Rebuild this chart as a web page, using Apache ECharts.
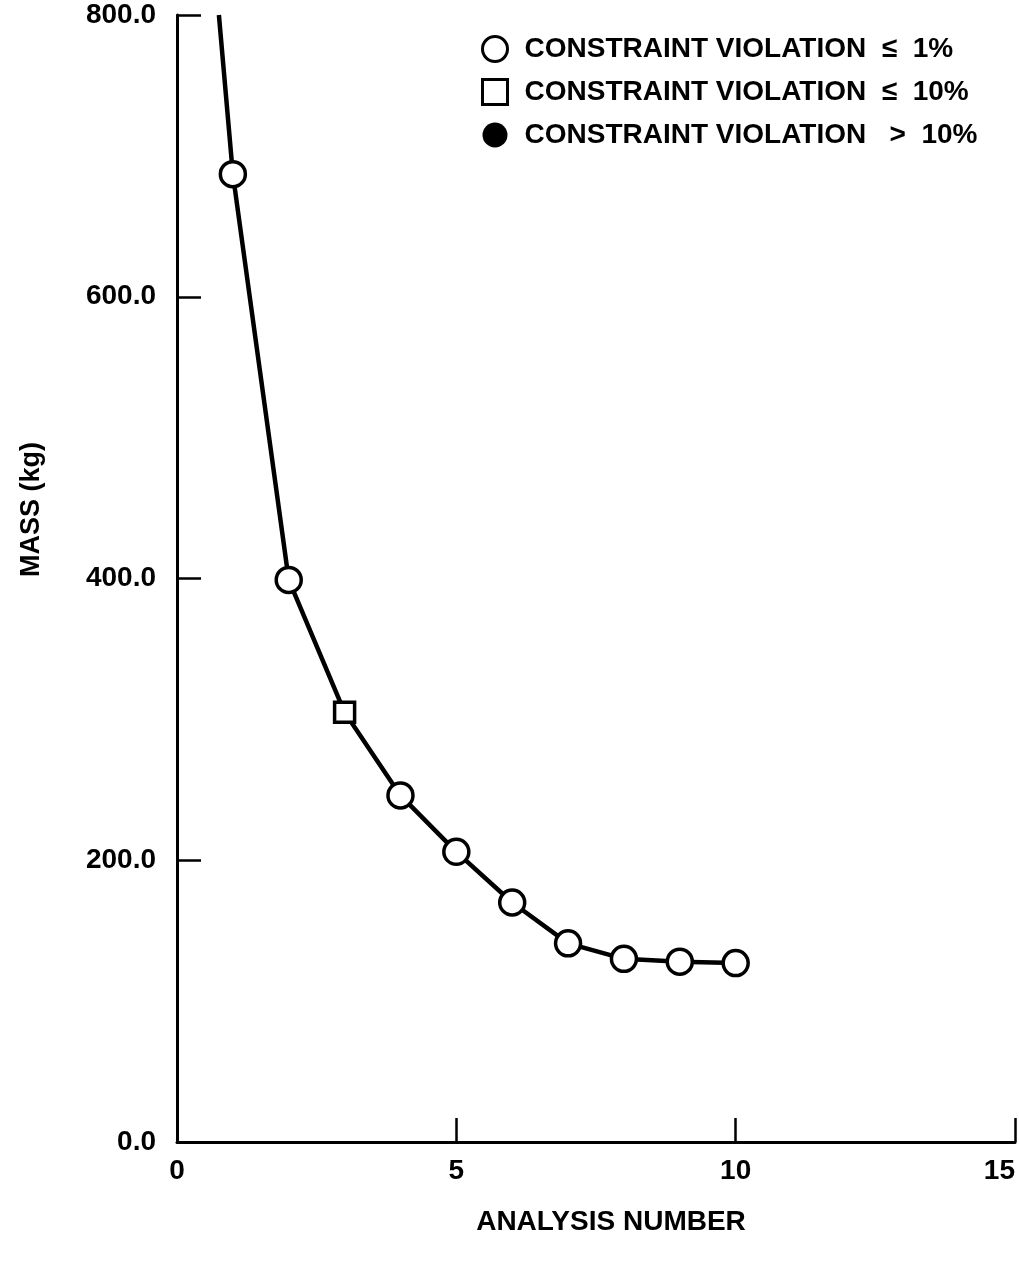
<!DOCTYPE html>
<html>
<head>
<meta charset="utf-8">
<script src="https://cdn.jsdelivr.net/npm/echarts@6/dist/echarts.min.js"></script>
<style>
html,body{margin:0;padding:0;background:#fff;}
#chart{width:1019px;height:1263px;}
</style>
</head>
<body>
<div id="chart"></div>
<script>
// ---- data ----
const analysisNumber = [1, 2, 3, 4, 5, 6, 7, 8, 9, 10];
const mass = [687, 399, 305, 246, 206, 170, 141, 130, 128, 127];
// violation class per analysis: 'le1' (<=1%), 'le10' (<=10%), 'gt10' (>10%)
const violation = ['le1', 'le1', 'le10', 'le1', 'le1', 'le1', 'le1', 'le1', 'le1', 'le1'];
// the curve continues above the first point up to the top of the axis
const curveStart = [0.75, 800];
const legendNames = ['CONSTRAINT VIOLATION  \u2264  1%', 'CONSTRAINT VIOLATION  \u2264  10%', 'CONSTRAINT VIOLATION   >  10%'];
const xTicks = { min: 0, max: 15, interval: 5 };
const yTicks = { min: 0, max: 800, interval: 200 };
const xTitle = 'ANALYSIS NUMBER';
const yTitle = 'MASS (kg)';

const FONT = '"Liberation Sans", Arial, Helvetica, sans-serif';
const pts = analysisNumber.map((x, i) => [x, mass[i]]);
const byClass = c => pts.filter((p, i) => violation[i] === c);

const chart = echarts.init(document.getElementById('chart'), null, { renderer: 'canvas' });
chart.setOption({
  animation: false,
  backgroundColor: '#fff',
  grid: { left: 177, right: 4, top: 15, bottom: 121, containLabel: false, outerBoundsMode: 'none' },
  legend: {
    orient: 'vertical',
    left: 476,
    top: 30,
    itemGap: 15,
    itemWidth: 25,
    itemHeight: 25,
    textStyle: { fontFamily: FONT, fontWeight: 'bold', fontSize: 28, color: '#000', padding: [0, 0, 0, 12] },
    data: [
      { name: legendNames[0], icon: 'circle', itemStyle: { color: '#fff', borderColor: '#000', borderWidth: 3 } },
      { name: legendNames[1], icon: 'rect', itemStyle: { color: '#fff', borderColor: '#000', borderWidth: 3 } },
      { name: legendNames[2], icon: 'circle', itemStyle: { color: '#000', borderColor: '#000', borderWidth: 0 } }
    ]
  },
  xAxis: {
    type: 'value',
    min: xTicks.min, max: xTicks.max, interval: xTicks.interval,
    name: xTitle,
    nameLocation: 'middle',
    nameGap: 66,
    nameTextStyle: { fontFamily: FONT, fontWeight: 'bold', fontSize: 28, color: '#000', padding: [0, 0, 0, 30] },
    axisLine: { show: true, lineStyle: { color: '#000', width: 3 } },
    axisTick: { show: true, inside: true, length: 24, lineStyle: { color: '#000', width: 2.5 } },
    axisLabel: { fontFamily: FONT, fontWeight: 'bold', fontSize: 28, color: '#000', margin: 15, alignMaxLabel: 'right' },
    splitLine: { show: false }
  },
  yAxis: {
    type: 'value',
    min: yTicks.min, max: yTicks.max, interval: yTicks.interval,
    name: yTitle,
    nameLocation: 'middle',
    nameGap: 132,
    nameTextStyle: { fontFamily: FONT, fontWeight: 'bold', fontSize: 27, color: '#000', padding: [0, 0, 0, 138] },
    axisLine: { show: true, lineStyle: { color: '#000', width: 3 } },
    axisTick: { show: true, inside: true, length: 24, lineStyle: { color: '#000', width: 2.5 } },
    axisLabel: { fontFamily: FONT, fontWeight: 'bold', fontSize: 28, color: '#000', margin: 21,
      formatter: v => v.toFixed(1) },
    splitLine: { show: false }
  },
  series: [
    {
      name: 'curve',
      type: 'line',
      data: [curveStart].concat(pts),
      symbol: 'none',
      lineStyle: { color: '#000', width: 4.5 },
      z: 2,
      silent: true
    },
    {
      name: legendNames[0],
      type: 'scatter',
      data: byClass('le1'),
      symbol: 'circle',
      symbolSize: 25,
      itemStyle: { color: '#fff', borderColor: '#000', borderWidth: 3.5, opacity: 1 },
      z: 3
    },
    {
      name: legendNames[1],
      type: 'scatter',
      data: byClass('le10'),
      symbol: 'rect',
      symbolSize: 20,
      itemStyle: { color: '#fff', borderColor: '#000', borderWidth: 3.5, opacity: 1 },
      z: 3
    },
    {
      name: legendNames[2],
      type: 'scatter',
      data: byClass('gt10'),
      symbol: 'circle',
      symbolSize: 25,
      itemStyle: { color: '#000', borderColor: '#000', borderWidth: 0, opacity: 1 },
      z: 3
    }
  ]
});
</script>
</body>
</html>
